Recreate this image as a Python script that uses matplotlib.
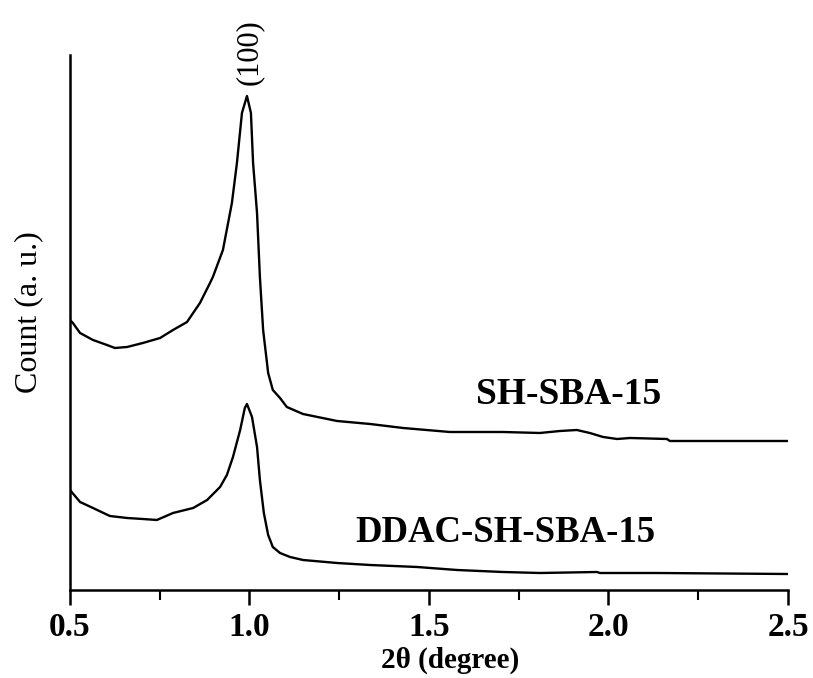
import numpy as np
import matplotlib
matplotlib.use("Agg")
import matplotlib.pyplot as plt

# Parameters
plt.rcParams['font.family'] = ['Liberation Serif', 'DejaVu Serif']

# data (2theta in degree, counts in arbitrary units)
sh_x = [0.500, 0.508, 0.528, 0.564, 0.603, 0.625, 0.659, 0.703, 0.751, 0.787,
        0.826, 0.862, 0.890, 0.898, 0.926, 0.951, 0.965, 0.979, 0.993, 1.004,
        1.010, 1.021, 1.029, 1.038, 1.052, 1.065, 1.085, 1.104, 1.149, 1.244,
        1.336, 1.428, 1.558, 1.706, 1.809, 1.865, 1.912, 1.948, 1.985, 2.024,
        2.060, 2.163, 2.171, 2.500]
sh_y = [270, 267, 257, 250, 245, 242, 243, 247, 252, 260,
        268, 287, 307, 313, 340, 387, 427, 477, 494, 477,
        427, 377, 313, 260, 217, 200, 192, 183, 176, 169,
        166, 162, 158, 158, 157, 159, 160, 157, 153, 151,
        152, 151, 149, 149]

ddac_x = [0.500, 0.528, 0.564, 0.611, 0.659, 0.703, 0.742, 0.787, 0.843, 0.882,
          0.918, 0.937, 0.954, 0.974, 0.987, 0.993, 1.007, 1.021, 1.029, 1.040,
          1.052, 1.065, 1.085, 1.113, 1.149, 1.244, 1.336, 1.467, 1.578, 1.706,
          1.809, 1.968, 1.976, 2.135, 2.500]
ddac_y = [100, 88, 82, 74, 72, 71, 70, 77, 82, 90,
          103, 115, 133, 160, 182, 186, 173, 143, 110, 77,
          55, 43, 37, 33, 30, 27, 25, 23, 20, 18,
          17, 18, 17, 17, 16]

xticks = [0.5, 1.0, 1.5, 2.0, 2.5]
xticklabels = ['0.5', '1.0', '1.5', '2.0', '2.5']

fig = plt.figure(figsize=(8.13, 6.78), dpi=100)
ax = fig.add_axes([0.0861, 0.1298, 0.8831, 0.7891])

ax.plot(sh_x, sh_y, color='black', lw=1.7)
ax.plot(ddac_x, ddac_y, color='black', lw=1.7)

ax.set_xlim(0.5, 2.5)
ax.set_ylim(0, 535)

ax.spines['top'].set_visible(False)
ax.spines['right'].set_visible(False)
ax.spines['left'].set_linewidth(1.8)
ax.spines['bottom'].set_linewidth(1.8)
ax.set_yticks([])

ax.set_xticks(xticks)
ax.set_xticklabels(xticklabels, fontsize=24, fontweight='bold')
ax.set_xticks(np.arange(0.75, 2.5, 0.5), minor=True)
ax.tick_params(axis='x', which='major', direction='out', length=11, width=1.8, pad=5)
ax.tick_params(axis='x', which='minor', direction='out', length=7, width=1.5)

ax.text(0.53, -0.131, '2θ (degree)', transform=ax.transAxes, ha='center', va='center',
        fontsize=21, fontweight='bold')
ax.text(-0.058, 0.52, 'Count (a. u.)', transform=ax.transAxes, ha='center', va='center',
        rotation=90, fontsize=23)

ax.text(1.0, 505, '(100)', ha='center', va='bottom', rotation=90, fontsize=22)
ax.text(1.89, 195, 'SH-SBA-15', ha='center', va='center', fontsize=27, fontweight='bold')
ax.text(1.714, 57, 'DDAC-SH-SBA-15', ha='center', va='center', fontsize=26.5, fontweight='bold')

fig.savefig("out.png", dpi=100)
print("Saved chart")
